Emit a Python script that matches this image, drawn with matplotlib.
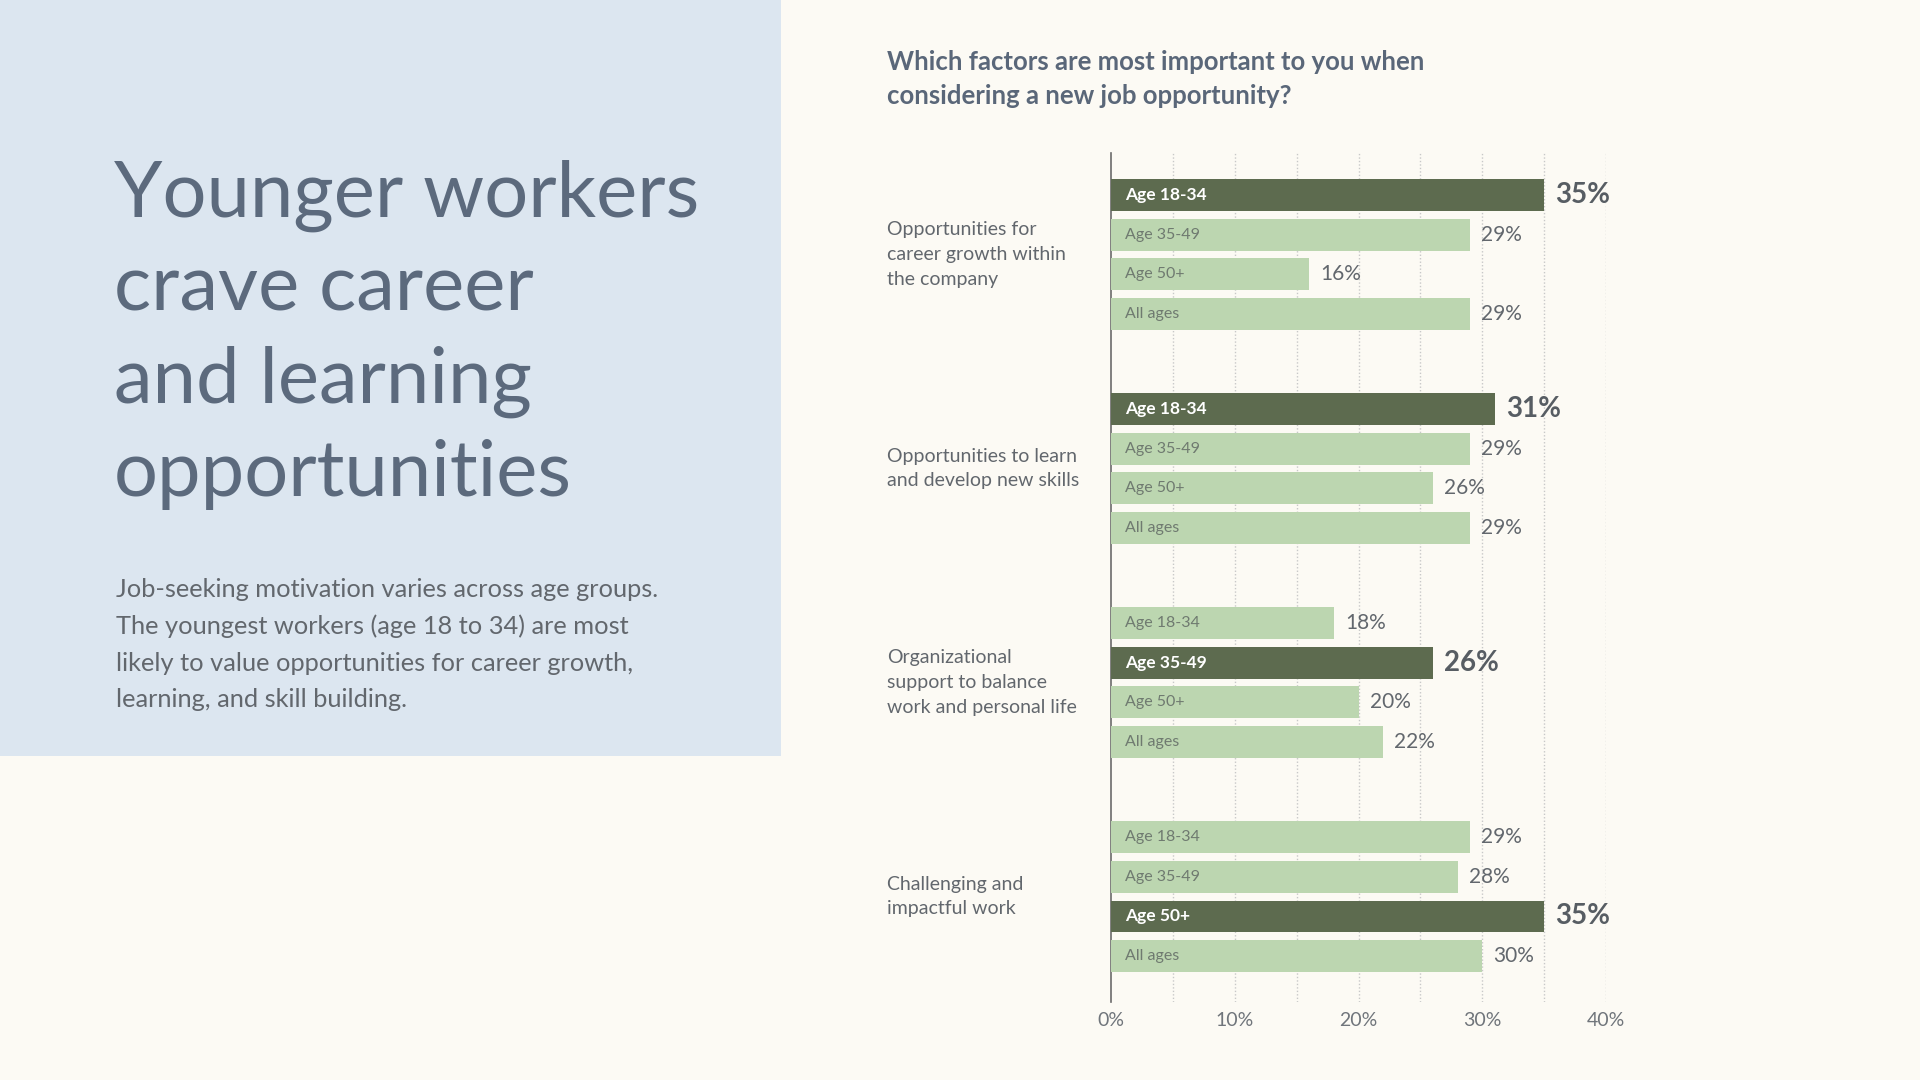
import matplotlib.pyplot as plt
from matplotlib.patches import Rectangle
import numpy as np

# data
categories = ["Opportunities for\ncareer growth within\nthe company",
              "Opportunities to learn\nand develop new skills",
              "Organizational\nsupport to balance\nwork and personal life",
              "Challenging and\nimpactful work"]
age_groups = ["Age 18-34", "Age 35-49", "Age 50+", "All ages"]
career_growth = [35, 29, 16, 29]
learn_skills = [31, 29, 26, 29]
work_life = [18, 26, 20, 22]
challenging = [29, 28, 35, 30]
x_ticks = [0, 10, 20, 30, 40]

bg = "#fcfaf4"
panel = "#dce6f0"
dark = "#5d6b4f"
light = "#bcd6b0"
slate = "#5a6779"
gray = "#62676d"

plt.rcParams['font.family'] = ['Lato', 'DejaVu Sans']

fig = plt.figure(figsize=(19.2, 10.8), dpi=100)
fig.patch.set_facecolor(bg)

# left blue panel
fig.patches.append(Rectangle((0, 1 - 756 / 1080), 781 / 1920, 756 / 1080,
                             transform=fig.transFigure, facecolor=panel,
                             edgecolor="none", zorder=0))

fig.text(114 / 1920, 1 - 160 / 1080,
         "Younger workers\ncrave career\nand learning\nopportunities",
         fontsize=56, fontweight="normal", color="#5c6a7d", va="top",
         ha="left", linespacing=1.37)

fig.text(116 / 1920, 1 - 578 / 1080,
         "Job-seeking motivation varies across age groups.\n"
         "The youngest workers (age 18 to 34) are most\n"
         "likely to value opportunities for career growth,\n"
         "learning, and skill building.",
         fontsize=18.3, color=gray, va="top", ha="left", linespacing=1.7)

fig.text(887 / 1920, 1 - 50 / 1080,
         "Which factors are most important to you when\n"
         "considering a new job opportunity?",
         fontsize=18.5, fontweight="bold", color=slate, va="top", ha="left",
         linespacing=1.5)

ax = fig.add_axes([1111 / 1920, 1 - 1002 / 1080, 495 / 1920, 849 / 1080])
ax.set_facecolor("none")

group_values = [career_growth, learn_skills, work_life, challenging]
group_gap = 5.4

for g, vals in enumerate(group_values):
    top = int(np.argmax(vals))
    ys = [g * group_gap + i for i in range(len(vals))]
    for i, (v, y) in enumerate(zip(vals, ys)):
        hi = i == top
        ax.barh(y, v, height=0.8, color=dark if hi else light, zorder=3)
        ax.annotate(age_groups[i], (0, y), xytext=(10, 0),
                    textcoords="offset points", va="center", ha="left",
                    fontsize=12.5 if hi else 11.5,
                    fontweight="bold" if hi else "normal",
                    color="white" if hi else "#6f7a70", zorder=4)
        ax.annotate(f"{v}%", (v, y), xytext=(8, 0),
                    textcoords="offset points", va="center", ha="left",
                    fontsize=20 if hi else 15,
                    fontweight="bold" if hi else "normal",
                    color="#575d63" if hi else gray, zorder=4)
    ax.annotate(categories[g], (0, np.mean(ys)), xytext=(-224 / 1.3889, 0),
                textcoords="offset points", va="center", ha="left",
                fontsize=14, color=gray, linespacing=1.55,
                annotation_clip=False)

ax.set_xlim(0, 40)
ax.set_ylim(3 * group_gap + 3 + 1.16, -1.06)

for x in np.arange(5, 41, 5):
    ax.axvline(x, color="#c8c8c8", linestyle=(0, (1, 1.5)), linewidth=1,
               zorder=1)

for s in ["top", "right", "bottom"]:
    ax.spines[s].set_visible(False)
ax.spines["left"].set_color("#6b6b6b")
ax.spines["left"].set_linewidth(1.2)

ax.set_yticks([])
ax.set_xticks(x_ticks)
ax.set_xticklabels([f"{t}%" for t in x_ticks])
ax.tick_params(axis="x", length=0, pad=7, labelsize=14, labelcolor="#70757b")

fig.savefig("out.png", dpi=100, facecolor=bg)
